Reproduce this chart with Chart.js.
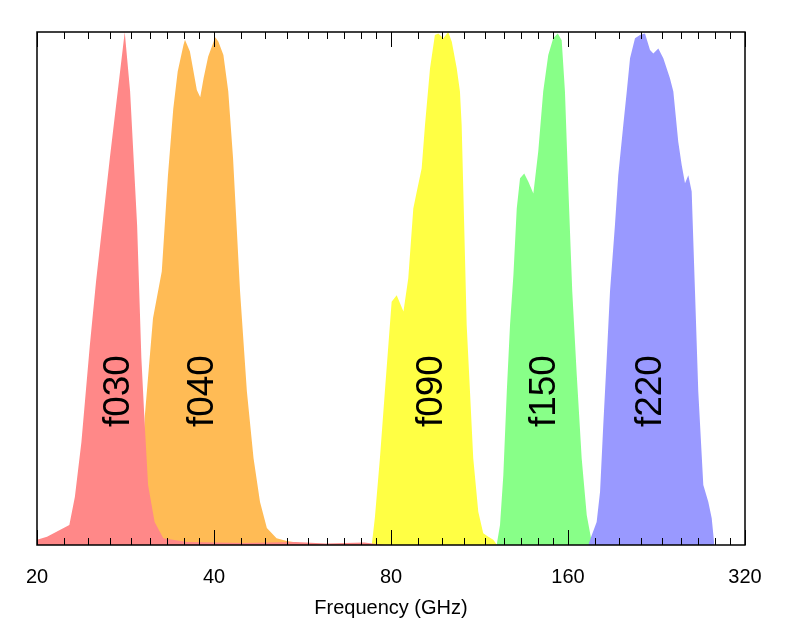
<!DOCTYPE html>
<html>
<head>
<meta charset="utf-8">
<script src="https://cdn.jsdelivr.net/npm/chart.js@4.4.1/dist/chart.umd.min.js"></script>
<style>
  html, body { margin: 0; padding: 0; background: #fff; }
  #wrap { width: 789px; height: 631px; }
</style>
</head>
<body>
<div id="wrap"><canvas id="bands" width="789" height="631"></canvas></div>
<script>
// band names and where their labels sit (GHz, relative response)
var bandNames = ['f030', 'f040', 'f090', 'f150', 'f220'];
var labelFreq = [27.5, 38.3, 93.7, 146.0, 221.7];
var labelLevel = 0.30;

// x axis ticks
var majorTicks = [20, 40, 80, 160, 320];

// bandpasses: frequency (GHz) and relative response
var f030Freq = [20.0, 20.8, 22.7, 23.2, 23.8, 24.6, 25.2, 26.6, 28.2, 28.8, 29.6, 30.1, 30.5, 30.9, 31.7, 32.8, 36, 45, 55, 62, 72, 78];
var f030Resp = [0.010, 0.016, 0.039, 0.094, 0.201, 0.390, 0.513, 0.754, 1.000, 0.884, 0.624, 0.364, 0.234, 0.117, 0.045, 0.013, 0.006, 0.004, 0.006, 0.003, 0.005, 0];

var f040Freq = [29.5, 30.0, 30.5, 31.5, 32.6, 33.4, 34.1, 34.7, 35.5, 35.7, 36.4, 37.4, 37.9, 38.4, 39.1, 40.2, 40.7, 41.5, 42.3, 43.1, 44.3, 45.5, 46.7, 47.9, 49.2, 51.1, 53.2, 56.0, 60.0];
var f040Resp = [0, 0.08, 0.25, 0.442, 0.533, 0.721, 0.85, 0.923, 0.975, 0.985, 0.962, 0.887, 0.873, 0.91, 0.952, 0.99, 0.981, 0.955, 0.884, 0.754, 0.494, 0.299, 0.169, 0.084, 0.033, 0.013, 0.008, 0.004, 0];

var f090Freq = [74.2, 75.1, 76.6, 78.1, 80.2, 81.8, 84.0, 85.6, 87.3, 88.5, 90.2, 91.4, 93.2, 95.0, 96.3, 98.2, 100.1, 101.5, 103.5, 104.8, 105.5, 106.2, 106.9, 107.6, 109.0, 110.4, 112.6, 114.8, 117.1, 119.4, 121.2];
var f090Resp = [0, 0.053, 0.169, 0.299, 0.474, 0.487, 0.455, 0.52, 0.656, 0.689, 0.734, 0.819, 0.929, 0.994, 0.997, 0.988, 1.0, 0.981, 0.929, 0.884, 0.819, 0.689, 0.559, 0.429, 0.299, 0.169, 0.065, 0.023, 0.016, 0.01, 0];

var f150Freq = [121.0, 122.6, 124.2, 125.9, 127.5, 129.2, 130.9, 132.6, 134.8, 137.0, 139.7, 142.4, 145.2, 148.1, 151.0, 153.7, 156.1, 158.1, 160.3, 162.7, 165.6, 168.8, 172.2, 175.1, 176.5];
var f150Resp = [0, 0.039, 0.136, 0.299, 0.429, 0.526, 0.656, 0.715, 0.724, 0.708, 0.685, 0.767, 0.884, 0.955, 0.988, 0.997, 0.984, 0.884, 0.689, 0.494, 0.331, 0.169, 0.058, 0.013, 0];

var f220Freq = [173.2, 175.6, 179.0, 181.4, 183.7, 186.2, 188.6, 192.3, 194.8, 198.7, 201.4, 204.0, 208.0, 212.1, 216.3, 220.6, 223.5, 227.9, 232.4, 238.5, 241.7, 246.4, 249.7, 253.0, 256.3, 259.7, 263.1, 266.5, 271.8, 277.2, 280.9, 283.8];
var f220Resp = [0, 0.019, 0.045, 0.104, 0.234, 0.364, 0.494, 0.624, 0.721, 0.819, 0.884, 0.949, 0.988, 0.994, 0.997, 0.965, 0.958, 0.968, 0.949, 0.91, 0.884, 0.786, 0.741, 0.705, 0.721, 0.689, 0.494, 0.299, 0.117, 0.084, 0.052, 0];

var fontFamily = "'Liberation Sans', Arial, Helvetica, sans-serif";

function toPoints(freq, resp) {
    return freq.map(function (f, i) { return { x: f, y: resp[i] }; });
}

function band(freq, resp, color, order) {
    return {
        data: toPoints(freq, resp),
        backgroundColor: color,
        borderColor: color,
        borderWidth: 0,
        pointRadius: 0,
        tension: 0,
        fill: 'origin',
        order: order
    };
}

// inward ticks on top and bottom, the frame, and the band names
var frameTicks = {
    id: 'frameTicks',
    afterDatasetsDraw: function (chart) {
        var ctx = chart.ctx;
        var y = chart.scales.y;
        var x = chart.scales.x;
        ctx.save();
        ctx.fillStyle = '#000';
        ctx.font = '37px ' + fontFamily;
        ctx.textAlign = 'center';
        ctx.textBaseline = 'middle';
        bandNames.forEach(function (name, i) {
            ctx.save();
            ctx.translate(x.getPixelForValue(labelFreq[i]), y.getPixelForValue(labelLevel));
            ctx.rotate(-Math.PI / 2);
            ctx.fillText(name, 0, 0);
            ctx.restore();
        });
        ctx.restore();
    },
    afterDraw: function (chart) {
        var ctx = chart.ctx;
        var a = chart.chartArea;
        var xs = chart.scales.x;
        ctx.save();
        ctx.strokeStyle = '#000';
        ctx.lineWidth = 1;

        function tick(v, len) {
            var px = Math.round(xs.getPixelForValue(v)) + 0.5;
            ctx.beginPath();
            ctx.moveTo(px, a.bottom);
            ctx.lineTo(px, a.bottom - len);
            ctx.moveTo(px, a.top);
            ctx.lineTo(px, a.top + len);
            ctx.stroke();
        }

        for (var m = 0; m < majorTicks.length - 1; m++) {
            for (var k = 1; k < 9; k++) {
                tick(majorTicks[m] * (1 + k / 9), 7);
            }
        }
        majorTicks.forEach(function (v) { tick(v, 15); });

        ctx.lineWidth = 1.5;
        ctx.strokeRect(a.left, a.top, a.right - a.left, a.bottom - a.top);
        ctx.restore();
    }
};

var chart = new Chart(document.getElementById('bands'), {
    type: 'line',
    data: {
        datasets: [
            band(f030Freq, f030Resp, '#ff8888', 0),
            band(f040Freq, f040Resp, '#ffbb55', 1),
            band(f090Freq, f090Resp, '#ffff44', 2),
            band(f220Freq, f220Resp, '#9999ff', 3),
            band(f150Freq, f150Resp, '#88ff88', 4)
        ]
    },
    options: {
        responsive: false,
        animation: false,
        devicePixelRatio: 1,
        layout: { padding: { left: 37, right: 44, top: 32, bottom: 11 } },
        plugins: {
            legend: { display: false },
            tooltip: { enabled: false }
        },
        scales: {
            x: {
                type: 'logarithmic',
                min: 20,
                max: 320,
                afterBuildTicks: function (scale) {
                    scale.ticks = majorTicks.map(function (v) { return { value: v }; });
                },
                ticks: {
                    autoSkip: false,
                    maxRotation: 0,
                    padding: 20,
                    color: '#000',
                    font: { family: fontFamily, size: 20 },
                    callback: function (v) { return String(v); }
                },
                grid: { display: false, drawTicks: false },
                border: { display: false },
                title: {
                    display: true,
                    text: 'Frequency (GHz)',
                    color: '#000',
                    font: { family: fontFamily, size: 20 },
                    // the tick padding is counted twice by the axis, so pull the title back up
                    padding: { top: -13, bottom: 0 }
                }
            },
            y: {
                display: false,
                min: 0,
                max: 1
            }
        }
    },
    plugins: [frameTicks]
});
</script>
</body>
</html>
